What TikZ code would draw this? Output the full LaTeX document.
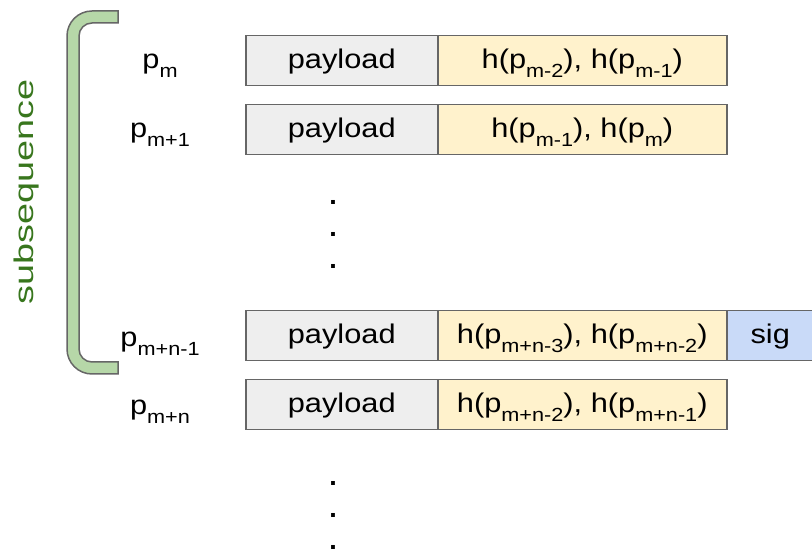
\documentclass[tikz,border=0pt]{standalone}
\usepackage{fontspec}
\setmainfont{Liberation Sans}
\usepackage{graphicx}

\definecolor{edge}{HTML}{666666}
\definecolor{payfill}{HTML}{EEEEEE}
\definecolor{hashfill}{HTML}{FFF2CC}
\definecolor{sigfill}{HTML}{C9DAF8}
\definecolor{brfill}{HTML}{B6D7A8}
\definecolor{brtext}{HTML}{38761D}

% horizontally widened text and lowered subscripts
\newcommand\wide[1]{\scalebox{1.14}[1]{#1}}
\newcommand\sbs[1]{\raisebox{-9pt}{\fontsize{19}{19}\selectfont #1}}
\newcommand\hp[1]{h(p\sbs{#1})}

\tikzset{
  cell/.style={draw=edge, line width=1.5pt, minimum height=50pt, inner sep=0pt, anchor=north west},
  paycell/.style={cell, fill=payfill, minimum width=192pt},
  hashcell/.style={cell, fill=hashfill, minimum width=289pt},
  sigcell/.style={cell, fill=sigfill, minimum width=87pt},
  txt/.style={anchor=base, inner sep=0pt, font=\fontsize{27}{30}\selectfont},
  lbl/.style={txt},
  vdots/.style={anchor=south, inner sep=0pt, align=center, text depth=0pt,
    font=\fontsize{27}{32}\selectfont\bfseries}
}

\begin{document}
\begin{tikzpicture}[x=1pt,y=1pt]
\useasboundingbox (0,0) rectangle (812,557);

% bracket marking the subsequence
\filldraw[fill=brfill, draw=edge, line width=1.5pt]
  (118,546) -- (92,546) arc[start angle=90, end angle=180, radius=25]
  -- (67,208) arc[start angle=180, end angle=270, radius=25]
  -- (118,183) -- (118,195) -- (92,195)
  arc[start angle=270, end angle=180, radius=13]
  -- (79,521) arc[start angle=180, end angle=90, radius=13]
  -- (118,534) -- cycle;
\node[inner sep=0pt, text=brtext] (subseq) at (27,365)
  {\rotatebox{90}{\scalebox{1.4}[1]{\fontsize{27}{27}\selectfont subsequence}}};

% packet p_m
\node[paycell] (pay1) at (245,522) {};
\node[hashcell] (hash1) at (437,522) {};
\node[txt] (pay1t) at ([yshift=-34pt]pay1.north) {\wide{payload}};
\node[txt] (hash1t) at ([yshift=-34pt]hash1.north) {\wide{\hp{m-2}, \hp{m-1}}};
\node[lbl] (lab1) at (160,488) {\wide{p\sbs{m}}};

% packet p_{m+1}
\node[paycell] (pay2) at (245,453) {};
\node[hashcell] (hash2) at (437,453) {};
\node[txt] (pay2t) at ([yshift=-34pt]pay2.north) {\wide{payload}};
\node[txt] (hash2t) at ([yshift=-34pt]hash2.north) {\wide{\hp{m-1}, \hp{m}}};
\node[lbl] (lab2) at (160,419) {\wide{p\sbs{m+1}}};

% vertical ellipsis
\node[vdots] (gap1) at (333,288) {.\\.\\.};

% packet p_{m+n-1}, carrying the signature
\node[paycell] (pay3) at (245,247) {};
\node[hashcell] (hash3) at (437,247) {};
\node[sigcell] (sig3) at (726,247) {};
\node[txt] (pay3t) at ([yshift=-34pt]pay3.north) {\wide{payload}};
\node[txt] (hash3t) at ([yshift=-34pt]hash3.north) {\wide{\hp{m+n-3}, \hp{m+n-2}}};
\node[txt] (sig3t) at ([yshift=-34pt]sig3.north) {\wide{sig}};
\node[lbl] (lab3) at (160,210) {\wide{p\sbs{m+n-1}}};

% packet p_{m+n}
\node[paycell] (pay4) at (245,178) {};
\node[hashcell] (hash4) at (437,178) {};
\node[txt] (pay4t) at ([yshift=-34pt]pay4.north) {\wide{payload}};
\node[txt] (hash4t) at ([yshift=-34pt]hash4.north) {\wide{\hp{m+n-2}, \hp{m+n-1}}};
\node[lbl] (lab4) at (160,142) {\wide{p\sbs{m+n}}};

% trailing ellipsis
\node[vdots] (gap2) at (333,7) {.\\.\\.};
\end{tikzpicture}
\end{document}
